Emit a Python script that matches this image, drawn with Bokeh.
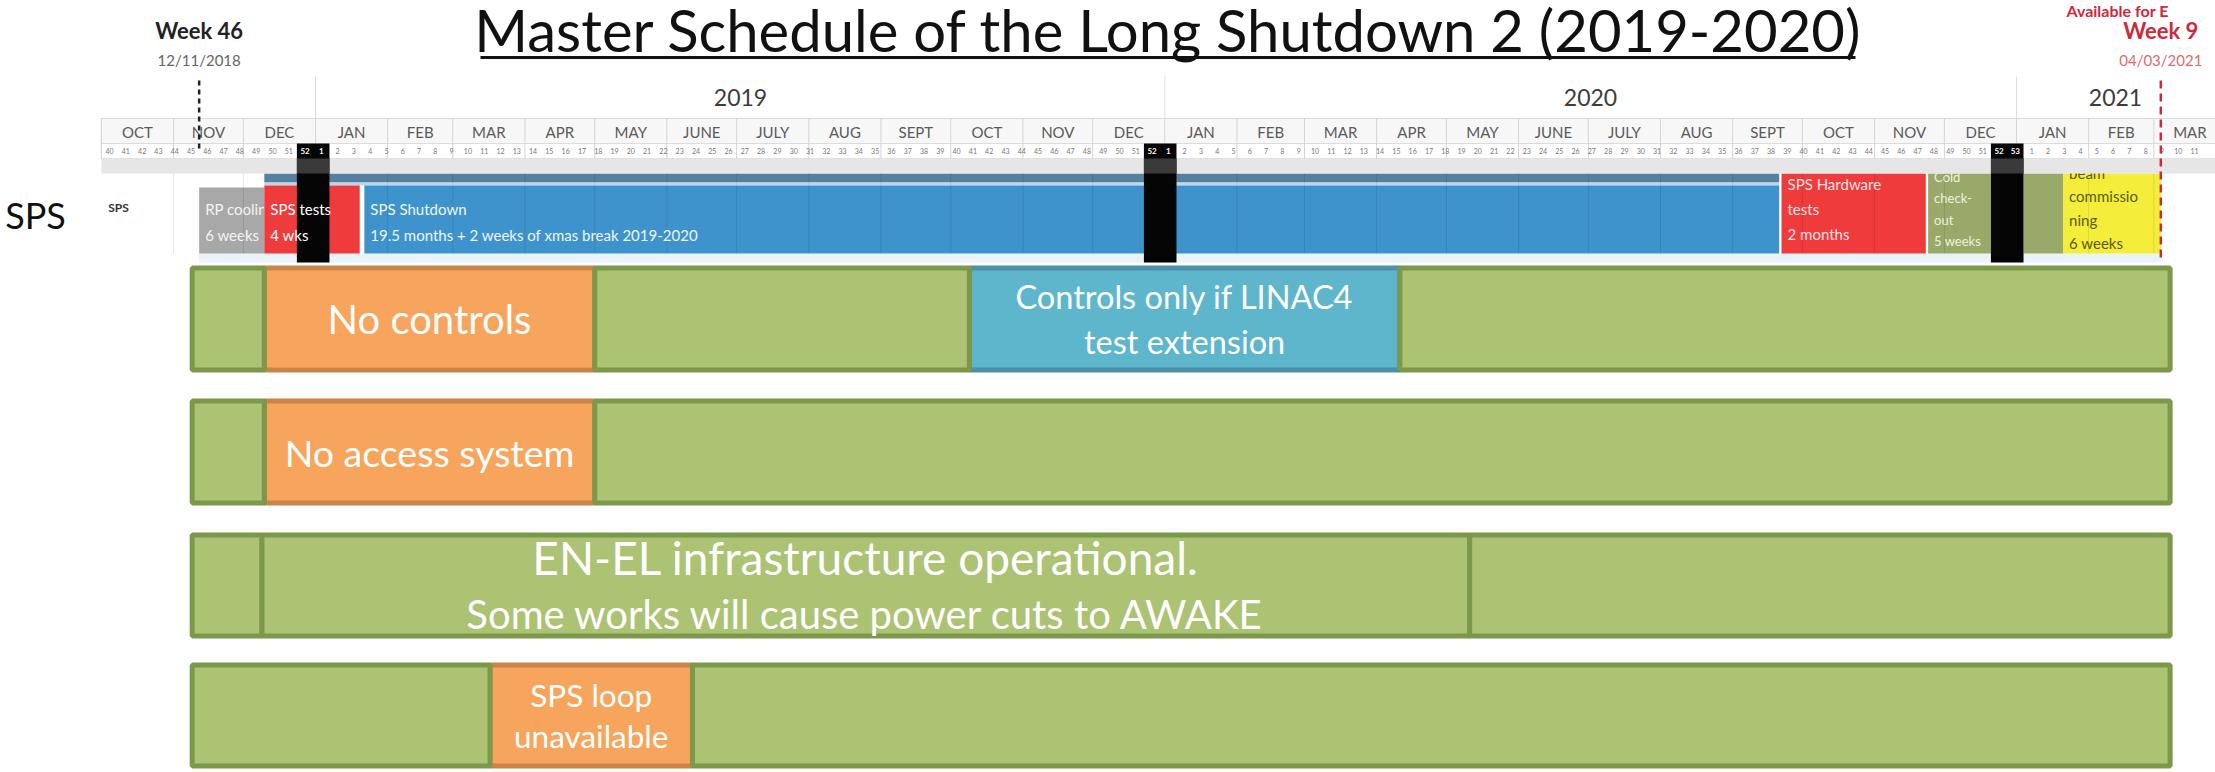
from datetime import datetime, timedelta
from bokeh.plotting import figure
from bokeh.models import Range1d
from bokeh.core.properties import value
from bokeh.embed import file_html
from bokeh.resources import INLINE

# ---------------------------------------------------------------- data
title = "Master Schedule of the Long Shutdown 2 (2019-2020)"

month_labels = ["OCT", "NOV", "DEC", "JAN", "FEB", "MAR", "APR", "MAY", "JUNE", "JULY", "AUG", "SEPT",
                "OCT", "NOV", "DEC", "JAN", "FEB", "MAR", "APR", "MAY", "JUNE", "JULY", "AUG", "SEPT",
                "OCT", "NOV", "DEC", "JAN", "FEB", "MAR"]
first_month = (2018, 10)
year_labels = ["2019", "2020", "2021"]

marker_dates = ["2018-11-12", "2021-03-04"]
marker_week = ["Week 46", "Week 9"]
marker_day = ["12/11/2018", "04/03/2021"]
marker_note = ["", "Available for E"]

xmas_start = ["2018-12-24", "2019-12-23", "2020-12-21"]
xmas_end = ["2019-01-07", "2020-01-06", "2021-01-04"]

sps_label = ["RP cooling\n6 weeks",
             "SPS tests\n4 wks",
             "SPS Shutdown\n19.5 months + 2 weeks of xmas break 2019-2020",
             "SPS Hardware\ntests\n2 months",
             "Cold\ncheck-\nout\n5 weeks",
             "",
             "beam\ncommissio\nning\n6 weeks"]
sps_start = ["2018-11-12", "2018-12-10", "2019-01-22", "2020-09-22", "2020-11-24", "2021-01-04", "2021-01-21"]
sps_end = ["2018-12-10", "2019-01-20", "2020-09-21", "2020-11-23", "2020-12-21", "2021-01-21", "2021-03-04"]
sps_kind = ["cool", "test", "shutdown", "hwtest", "checkout", "checkout", "beam"]
surface_start, surface_end = "2018-12-10", "2020-09-21"

row1_start = ["2018-11-09", "2018-12-10", "2019-05-01", "2019-10-09", "2020-04-11"]
row1_end = ["2018-12-10", "2019-05-01", "2019-10-09", "2020-04-11", "2021-03-08"]
row1_state = ["ok", "off", "ok", "partial", "ok"]
row1_text = ["", "No controls", "", "Controls only if LINAC4\ntest extension", ""]

row2_start = ["2018-11-09", "2018-12-10", "2019-05-01"]
row2_end = ["2018-12-10", "2019-05-01", "2021-03-08"]
row2_state = ["ok", "off", "ok"]
row2_text = ["", "No access system", ""]

row3_start = ["2018-11-09", "2018-12-09", "2020-05-11"]
row3_end = ["2018-12-09", "2020-05-11", "2021-03-08"]
row3_state = ["ok", "ok", "ok"]
row3_text = ["", "EN-EL infrastructure operational.\nSome works will cause power cuts to AWAKE", ""]

row4_start = ["2018-11-09", "2019-03-17", "2019-06-12"]
row4_end = ["2019-03-17", "2019-06-12", "2021-03-08"]
row4_state = ["ok", "off", "ok"]
row4_text = ["", "SPS loop\nunavailable", ""]

# ---------------------------------------------------------------- layout
W, H = 2215, 772
D0 = datetime(2019, 1, 1)
PX_DAY = 2.327
ORIGIN_PX = 315


def d(s):
    return datetime.strptime(s, "%Y-%m-%d")


def px2dt(px):
    return D0 + timedelta(days=(px - ORIGIN_PX) / PX_DAY)


def dpx(n):
    return timedelta(days=n / PX_DAY)


FONT = "Lato"
p = figure(width=W, height=H, x_axis_type="datetime",
           x_range=Range1d(start=px2dt(0), end=px2dt(W)),
           y_range=Range1d(start=H, end=0),
           x_axis_location=None, y_axis_location=None,
           output_backend="svg", toolbar_location=None, min_border=0,
           outline_line_color=None, background_fill_color="white", border_fill_color="white")
p.grid.visible = False


def txt(x, y, s, size, color="#ffffff", align="center", baseline="middle", style="normal"):
    p.text(x=[x], y=[y], text=[s], text_font=value(FONT), text_font_size=f"{size}px",
           text_color=color, text_align=align, text_baseline=baseline, text_font_style=style)


def box(x0, x1, y0, y1, color, line=None, lw=0):
    p.quad(left=[x0], right=[x1], top=[y0], bottom=[y1], fill_color=color,
           line_color=line, line_width=lw)


# months
months = []
y_, m_ = first_month
for lab in month_labels:
    start = datetime(y_, m_, 1)
    m_ += 1
    if m_ > 12:
        m_, y_ = 1, y_ + 1
    months.append((lab, start, datetime(y_, m_, 1)))
hdr_left = months[0][1]
hdr_right = px2dt(W + 20)

# ---------------------------------------------------------------- SPS row
kind_style = {
    "cool": dict(fill="#a8a8a8", top=187, first=208, step=26, size=15, color="#f4f4f4", late=False),
    "test": dict(fill="#ef3b3b", top=185, first=208, step=26, size=15, color="#ffffff", late=True),
    "shutdown": dict(fill="#3f93cc", top=185, first=208, step=26, size=15, color="#eef5fb", late=True),
    "hwtest": dict(fill="#ef3b3b", top=173, first=183, step=25, size=15, color="#fbe3e3", late=True),
    "checkout": dict(fill="#99a96a", top=173, first=176, step=21.5, size=13, color="#eef2dd", late=False),
    "beam": dict(fill="#f4ee3a", top=173, first=172, step=23.5, size=15, color="#5c5a08", late=False),
}


def sps_text(lab, s, st):
    for i, line in enumerate(lab.split("\n") if lab else []):
        txt(d(s) + dpx(6), st["first"] + i * st["step"], line, st["size"], st["color"], align="left")


box(d(sps_start[0]), d(sps_end[-1]), 253, 262, "#eaf4f8")
box(d(surface_start), d(surface_end), 173, 182, "#56809f")
box(d(surface_start), d(surface_end), 182, 185, "#bcd7ec")
for lab, s, e, k in zip(sps_label, sps_start, sps_end, sps_kind):
    st = kind_style[k]
    box(d(s), d(e), st["top"], 253, st["fill"])
    if not st["late"]:
        sps_text(lab, s, st)

# faint month lines across the SPS row
for lab, s, e in months[1:]:
    p.segment(x0=[s], x1=[s], y0=[173], y1=[253], line_color="#000000", line_alpha=0.10, line_width=1)

# ---------------------------------------------------------------- header
box(hdr_left, hdr_right, 118, 143, "#f7f7f7", "#dcdcdc", 1)
box(hdr_left, hdr_right, 143, 158, "#ffffff", "#dcdcdc", 1)
box(hdr_left, hdr_right, 158, 173, "#e6e6e6", None, 0)
for lab, s, e in months:
    p.segment(x0=[s], x1=[s], y0=[118], y1=[158], line_color="#d4d4d4", line_width=1)
    txt(s + (e - s) / 2, 131, lab, 15, "#5a5a5a")

# week numbers
monday = hdr_left
while monday + timedelta(days=7) < px2dt(W - 2):
    wk = monday.isocalendar()[1]
    txt(monday + timedelta(days=3.5), 150.5, str(wk), 7, "#777777")
    monday += timedelta(days=7)

# year labels + year separators
year_pos = [px2dt(740), px2dt(1590), px2dt(2115)]
for lab, xpos in zip(year_labels, year_pos):
    txt(xpos, 97, lab, 23, "#3c3c3c")
for yr in year_labels:
    jan1 = datetime(int(yr), 1, 1)
    p.segment(x0=[jan1], x1=[jan1], y0=[76], y1=[118], line_color="#dddddd", line_width=1)

# christmas breaks
for s, e in zip(xmas_start, xmas_end):
    box(d(s), d(e), 143, 262, "#050505")
    box(d(s), d(e), 158, 173, "#3a3a3a")
    wk = d(s)
    while wk < d(e):
        txt(wk + timedelta(days=3.5), 150.5, str(wk.isocalendar()[1]), 8, "#ffffff", style="bold")
        wk += timedelta(days=7)

# SPS texts that sit on top of the christmas boxes
for lab, s, k in zip(sps_label, sps_start, sps_kind):
    if kind_style[k]["late"]:
        sps_text(lab, s, kind_style[k])

# ---------------------------------------------------------------- markers
mk_color = ["#222222", "#cc2a3c"]
mk_sub = ["#666666", "#e06a6a"]
mk_dash = ["5 4", "8 5"]
mk_top = [80, 80]
mk_bottom = [150, 262]
for i, ds in enumerate(marker_dates):
    x = d(ds)
    p.segment(x0=[x], x1=[x], y0=[mk_top[i]], y1=[mk_bottom[i]], line_color=mk_color[i],
              line_width=2.5, line_dash=mk_dash[i])
    txt(x, 30, marker_week[i], 22, mk_color[i], style="bold")
    txt(x, 59, marker_day[i], 15, mk_sub[i])
    if marker_note[i]:
        txt(px2dt(2066), 10, marker_note[i], 16, "#d0283a", align="left", style="bold")

# ---------------------------------------------------------------- AWAKE rows
state_fill = {"ok": "#abc373", "off": "#f7a55c", "partial": "#5db6cc"}
state_line = {"ok": "#7c984b", "off": "#c98448", "partial": "#4b91a9"}
rows = [
    (row1_start, row1_end, row1_state, row1_text, (265, 372)),
    (row2_start, row2_end, row2_state, row2_text, (398, 505)),
    (row3_start, row3_end, row3_state, row3_text, (532, 638)),
    (row4_start, row4_end, row4_state, row4_text, (662, 768)),
]
text_style = {
    "No controls": ([40], 0),
    "Controls only if LINAC4\ntest extension": ([32.5, 32.5], 45),
    "No access system": ([37.5], 0),
    "EN-EL infrastructure operational.\nSome works will cause power cuts to AWAKE": ([46, 40], 56),
    "SPS loop\nunavailable": ([31.5, 31.5], 41),
}
LW = 5
for starts, ends, states, texts, (yt, yb) in rows:
    order = sorted(range(len(starts)), key=lambda k: states[k] == "ok")
    for k in order:
        box(d(starts[k]), d(ends[k]), yt + LW / 2, yb - LW / 2, state_fill[states[k]],
            state_line[states[k]], LW)
    for k, t in enumerate(texts):
        if not t:
            continue
        sizes, step = text_style[t]
        lines = t.split("\n")
        xc = d(starts[k]) + (d(ends[k]) - d(starts[k])) / 2
        yc = (yt + yb) / 2 - step * (len(lines) - 1) / 2
        for i, line in enumerate(lines):
            txt(xc, yc + i * step, line, sizes[i], "#ffffff")

# ---------------------------------------------------------------- titles / labels
txt(px2dt(1168), 29, title, 58, "#111111")
p.segment(x0=[px2dt(480)], x1=[px2dt(1855)], y0=[57], y1=[57], line_color="#111111", line_width=3)
txt(px2dt(35), 214, "SPS", 36, "#111111")
txt(px2dt(118), 207, "SPS", 12, "#333333", style="bold")

open("out.html", "w").write(file_html(p, INLINE))
